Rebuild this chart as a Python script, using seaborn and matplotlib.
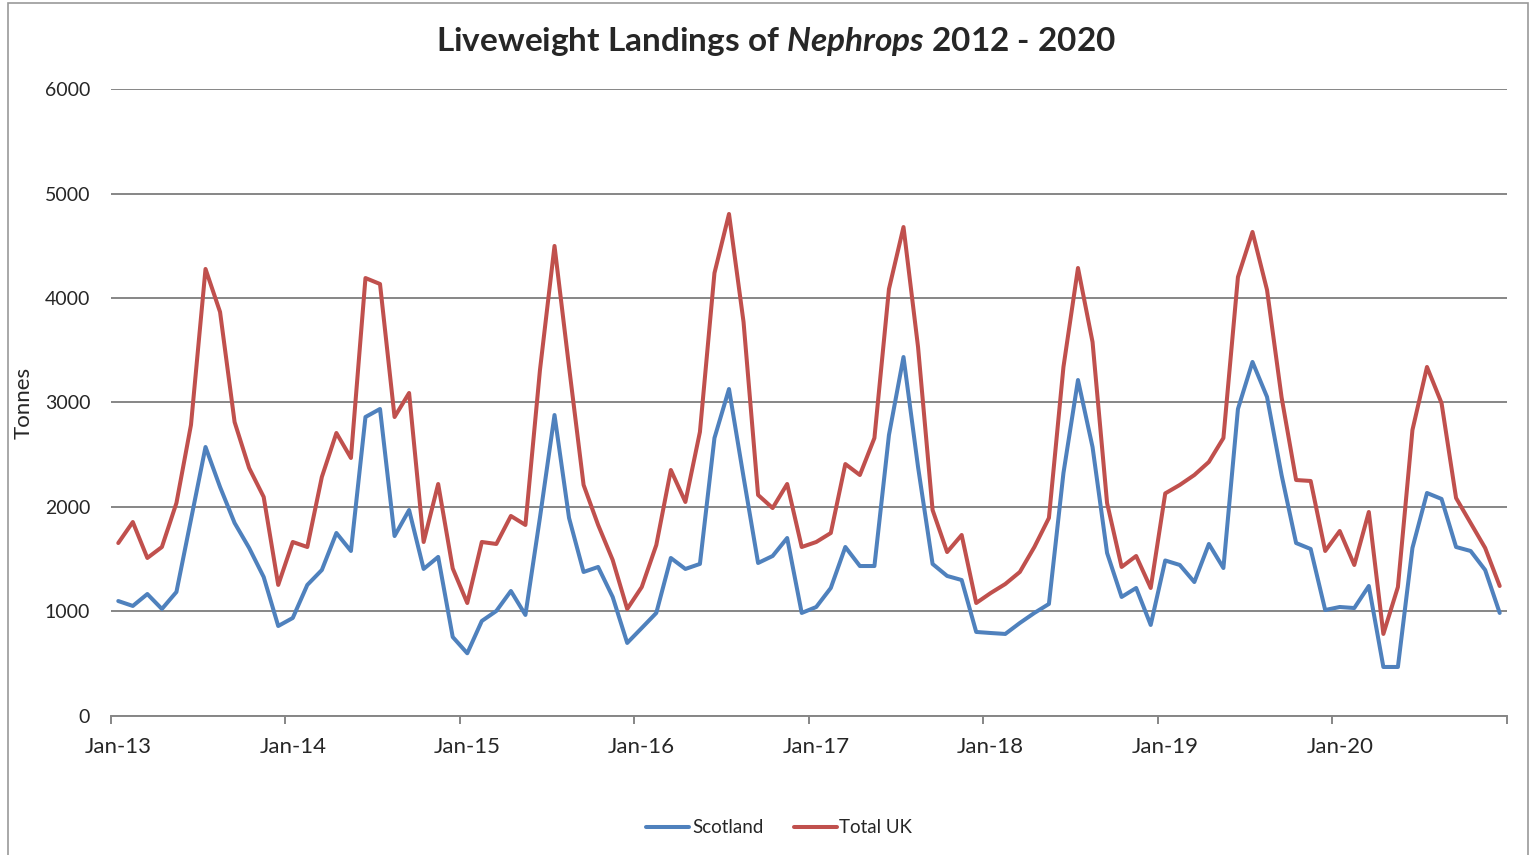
import numpy as np
import pandas as pd
import matplotlib
matplotlib.use("Agg")
import matplotlib.pyplot as plt
import seaborn as sns
from matplotlib.patches import Rectangle

# Monthly liveweight landings (tonnes), Jan-13 .. Dec-20

scotland = [
    1100, 1053, 1167, 1024, 1187, 1880, 2574, 2191, 1847, 1608, 1330, 861,
    938, 1254, 1397, 1751, 1579, 2861, 2938, 1722, 1971, 1407, 1522, 756,
    600, 909, 1005, 1196, 967, 1900, 2880, 1895, 1378, 1426, 1139, 699,
    842, 986, 1512, 1407, 1455, 2660, 3129, 2287, 1464, 1531, 1703, 986,
    1043, 1225, 1617, 1435, 1435, 2689, 3435, 2383, 1455, 1340, 1301, 804,
    794, 785, 890, 986, 1072, 2325, 3215, 2574, 1560, 1139, 1225, 871,
    1488, 1445, 1282, 1646, 1416, 2938, 3388, 3053, 2306, 1655, 1598, 1014,
    1043, 1033, 1244, 469, 469, 1608, 2134, 2077, 1617, 1579, 1397, 986,
]

total_uk = [
    1655, 1856, 1512, 1617, 2038, 2785, 4278, 3866, 2813, 2373, 2096, 1254,
    1665, 1617, 2287, 2708, 2469, 4191, 4134, 2861, 3091, 1665, 2220, 1412,
    1081, 1665, 1646, 1914, 1828, 3311, 4498, 3340, 2211, 1828, 1493, 1024,
    1234, 1636, 2354, 2048, 2718, 4239, 4804, 3770, 2115, 1990, 2220, 1617,
    1665, 1751, 2411, 2306, 2660, 4086, 4679, 3531, 1971, 1569, 1732, 1081,
    1177, 1263, 1378, 1617, 1895, 3340, 4287, 3579, 2038, 1426, 1531, 1225,
    2130, 2211, 2306, 2431, 2660, 4201, 4632, 4077, 3050, 2258, 2249, 1579,
    1770, 1445, 1952, 785, 1234, 2737, 3340, 2995, 2086, 1847, 1608, 1244,
]

tick_labels = ["Jan-13", "Jan-14", "Jan-15", "Jan-16",
               "Jan-17", "Jan-18", "Jan-19", "Jan-20"]

series_names = ["Scotland", "Total UK"]
series_colors = ["#4F81BD", "#C0504D"]


def build_frame():
    month = np.arange(len(scotland))
    df = pd.concat([
        pd.DataFrame({"Month": month, "Tonnes": scotland, "Region": "Scotland"}),
        pd.DataFrame({"Month": month, "Tonnes": total_uk, "Region": "Total UK"}),
    ])
    return df


def plot_landings(df):

    sns.set_style("white")
    plt.rcParams["font.family"] = ["Lato", "DejaVu Sans"]
    plt.rcParams["mathtext.fontset"] = "custom"
    plt.rcParams["mathtext.it"] = "Lato:italic:bold"
    plt.rcParams["mathtext.rm"] = "Lato:bold"

    fig = plt.figure(figsize=(15.31, 8.55), dpi=100)
    ax = fig.add_axes([0.0725, 0.1626, 0.9118, 0.7333])

    # outer chart frame
    fig.patches.append(Rectangle((8 / 1531, -0.01), 1520 / 1531, 1 - 3 / 855 + 0.01,
                                 transform=fig.transFigure, fill=False,
                                 edgecolor="#9a9a9a", linewidth=1.2, zorder=0))

    sns.lineplot(
        data=df, x="Month", y="Tonnes", hue="Region",
        palette=dict(zip(series_names, series_colors)),
        linewidth=2.9, ax=ax, legend=True
    )

    n = len(scotland)
    ax.set_xlim(-0.5, n - 0.5)
    ax.set_ylim(0, 6000)
    ax.set_yticks(range(0, 6001, 1000))
    ax.yaxis.grid(True, color="#868686", linewidth=1.4)
    ax.set_axisbelow(True)

    # tick marks between years, labels under January
    ax.set_xticks(np.arange(-0.5, n, 12))
    ax.set_xticklabels([])
    ax.set_xticks(np.arange(0, n, 12), minor=True)
    ax.set_xticklabels(tick_labels, minor=True)
    ax.tick_params(axis="x", which="major", direction="out", length=6,
                   width=1.4, color="#868686", bottom=True)
    ax.tick_params(axis="x", which="minor", length=0, pad=15, labelsize=16)
    ax.tick_params(axis="y", length=0, pad=15, labelsize=14)

    for side in ["top", "right", "left"]:
        ax.spines[side].set_visible(False)
    ax.spines["bottom"].set_color("#868686")
    ax.spines["bottom"].set_linewidth(1.4)

    ax.set_xlabel("")
    ax.set_ylabel("Tonnes", fontsize=16, labelpad=8)

    fig.text(0.507, 0.951, r"Liveweight Landings of $Nephrops$ 2012 - 2020",
             ha="center", va="center", fontsize=24, fontweight="bold")

    ax.legend(loc="center", bbox_to_anchor=(0.509, 0.032),
              bbox_transform=fig.transFigure, ncol=2, frameon=False,
              fontsize=13.5, handlelength=2.3, handletextpad=0.15,
              columnspacing=1.6)

    fig.savefig("out.png", dpi=100)
    print("=" * 50)
    print("Plot Saved Successfully!")
    print("=" * 50)


def main():
    df = build_frame()
    plot_landings(df)


if __name__ == "__main__":
    main()
